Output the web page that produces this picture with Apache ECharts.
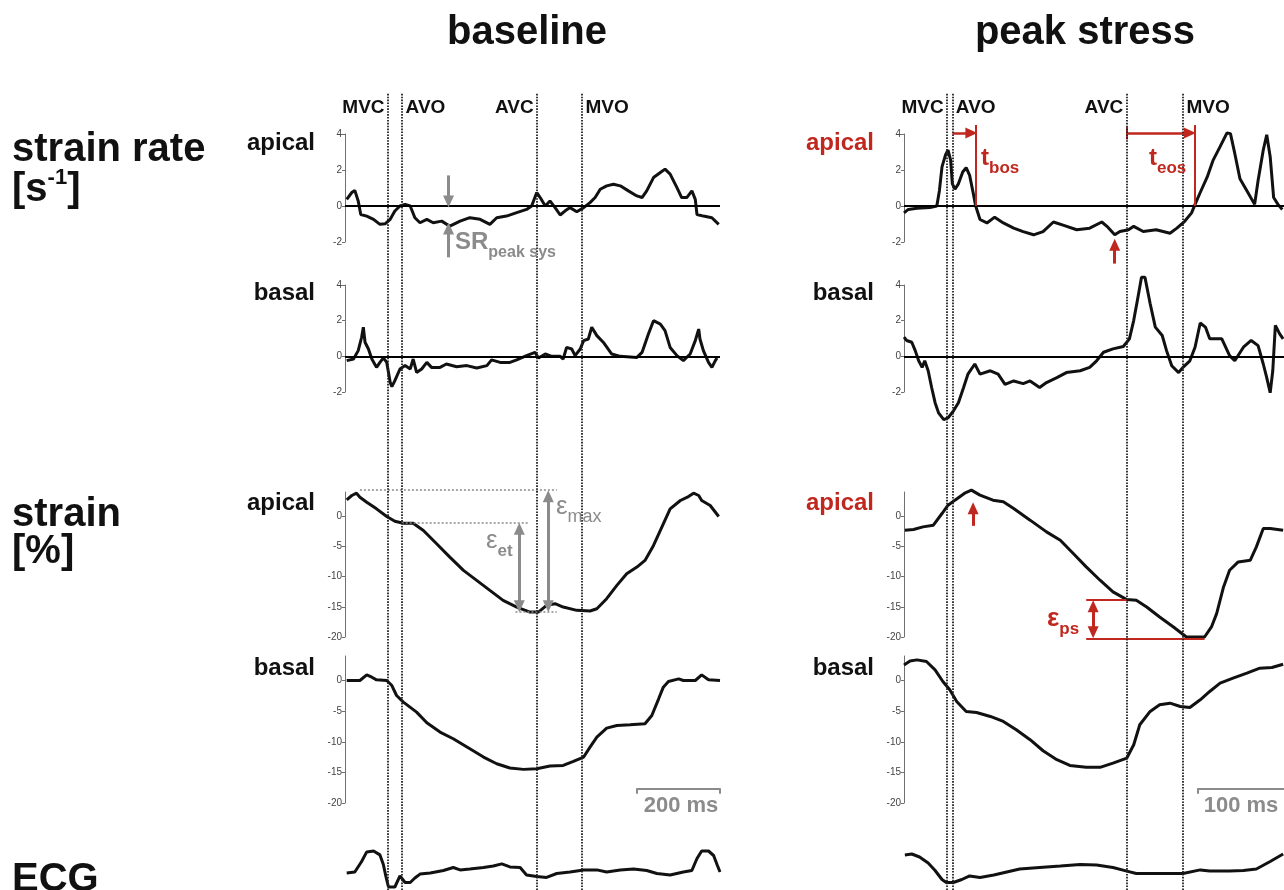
<!DOCTYPE html>
<html><head><meta charset="utf-8">
<script src="https://cdn.jsdelivr.net/npm/echarts@6/dist/echarts.min.js"></script>
<style>html,body{margin:0;padding:0;background:#fff}#c{width:1284px;height:890px}</style>
</head><body><div id="c"></div>
<script>
// ---------- DATA (time in ms, value) ----------
const eventNames = ['MVC', 'AVO', 'AVC', 'MVO'];
const baseEvents = [101, 134, 451, 556];
const peakEvents = [50, 56, 258, 323];
const srTicks = [-2, 0, 2, 4];
const strainTicks = [-20, -15, -10, -5, 0];

const baseSrApical = [[4,0.37],[16,0.75],[23,0.87],[31,0.28],[37,-0.47],[51,-0.56],[67,-0.74],[82,-1.02],[94,-0.99],[106,-0.74],[117,-0.28],[129,0],[141,0.09],[153,0],[164,-0.65],[176,-0.93],[192,-0.74],[207,-0.93],[227,-0.84],[246,-1.12],[270,-0.84],[293,-0.65],[317,-0.74],[340,-1.02],[356,-0.65],[379,-0.56],[403,-0.37],[426,-0.19],[438,0],[450,0.75],[458,0.47],[470,0],[481,0.28],[493,-0.09],[505,-0.5],[516,-0.28],[528,-0.09],[544,-0.32],[560,-0.09],[575,0.19],[587,0.47],[599,0.93],[614,1.12],[630,1.21],[646,1.12],[665,0.84],[685,0.56],[697,0.47],[708,0.84],[724,1.58],[740,1.86],[751,2.05],[763,1.77],[779,1.02],[790,0.47],[802,0.47],[814,0.84],[822,0.37],[826,-0.47],[841,-0.56],[861,-0.65],[877,-1.02]];
const baseSrBasal = [[4,-0.24],[20,-0.15],[31,0.32],[39,1.07],[43,1.63],[47,0.79],[55,0.41],[63,-0.15],[74,-0.62],[82,-0.34],[90,-0.09],[98,-0.34],[106,-1.46],[110,-1.7],[117,-1.36],[129,-0.71],[141,-0.52],[153,-0.71],[160,-0.15],[168,-0.9],[180,-0.71],[192,-0.34],[203,-0.62],[223,-0.62],[238,-0.43],[262,-0.58],[286,-0.52],[309,-0.65],[333,-0.52],[344,-0.2],[364,-0.34],[387,-0.34],[403,-0.2],[426,0.04],[446,0.22],[454,-0.09],[470,0.13],[485,0],[505,0],[512,-0.15],[520,0.5],[532,0.41],[540,0.04],[552,0.41],[560,0.88],[571,0.97],[579,1.63],[591,1.16],[606,0.79],[626,0.13],[646,0],[685,-0.06],[697,0.22],[712,1.25],[724,2.0],[740,1.81],[751,1.44],[763,0.5],[779,0.04],[794,-0.24],[810,0.13],[822,0.88],[830,1.53],[833,0.97],[841,0.32],[853,-0.34],[861,-0.62],[869,-0.24],[873,-0.09]];
const baseStrainApical = [[4,2.7],[16,3.42],[27,3.8],[35,3.14],[51,2.31],[74,1.21],[98,-0.06],[117,-0.83],[137,-1.16],[160,-1.16],[184,-2.37],[215,-4.57],[246,-6.78],[278,-8.98],[309,-10.63],[340,-12.29],[371,-13.94],[403,-15.04],[434,-15.87],[454,-15.87],[473,-14.77],[493,-14.49],[512,-15.04],[544,-15.59],[575,-15.7],[591,-15.32],[614,-13.66],[638,-11.46],[661,-9.53],[685,-8.43],[704,-7.33],[724,-4.85],[747,-1.27],[763,1.21],[787,2.59],[806,3.25],[818,3.8],[830,3.42],[837,2.59],[857,1.76],[877,-0.06]];
const baseStrainBasal = [[4,0],[35,0],[51,0.92],[63,0.54],[74,0.11],[98,0],[110,-0.82],[121,-2.45],[137,-3.53],[168,-5.16],[192,-6.9],[223,-8.42],[254,-9.51],[293,-11.14],[325,-12.5],[356,-13.59],[387,-14.29],[419,-14.51],[450,-14.4],[481,-13.97],[512,-13.86],[536,-13.21],[560,-12.5],[575,-10.87],[591,-9.24],[614,-7.77],[638,-7.34],[669,-7.23],[704,-7.07],[720,-5.71],[736,-2.99],[747,-1.09],[759,-0.16],[783,0.27],[794,0],[822,0],[837,0.92],[853,0.11],[880,0]];
const baseEcg = [[4,0.14],[23,0.2],[39,0.9],[51,1.54],[67,1.6],[82,1.34],[90,0.7],[96,-0.1],[102,-0.8],[117,-0.8],[129,-0.06],[141,-0.5],[153,-0.5],[164,-0.2],[176,0.06],[200,0.14],[231,0.3],[254,0.5],[270,0.34],[293,0.4],[325,0.5],[348,0.6],[368,0.74],[387,0.54],[411,0.5],[426,0],[450,-0.1],[473,-0.16],[497,0.1],[528,0.2],[560,0.34],[591,0.34],[614,0.2],[646,0.34],[677,0.4],[708,0.3],[732,0.1],[763,0],[794,0.2],[814,0.3],[826,1.1],[837,1.6],[853,1.6],[865,1.3],[873,0.7],[880,0.2]];

const peakSrApical = [[0,-0.38],[5,-0.19],[15,-0.13],[30,-0.09],[38,0],[41,0.85],[44,2.17],[48,2.83],[51,3.11],[54,2.55],[56,1.23],[59,0.94],[63,1.23],[68,1.89],[72,2.13],[76,1.7],[80,0.75],[83,0],[88,-0.75],[96,-0.94],[105,-0.62],[115,-0.94],[127,-1.23],[138,-1.42],[150,-1.6],[161,-1.42],[173,-0.89],[185,-1.08],[200,-1.32],[215,-1.23],[229,-0.89],[235,-1.13],[244,-1.6],[250,-1.42],[260,-1.32],[266,-1.13],[277,-1.42],[292,-1.32],[308,-1.51],[316,-1.23],[325,-0.85],[333,-0.38],[337,0.09],[343,0.75],[351,1.6],[358,2.55],[366,3.3],[374,4.06],[378,4.02],[383,2.92],[389,1.51],[397,0.85],[406,0.09],[410,1.42],[416,3.11],[420,3.96],[424,2.74],[428,0.47],[433,0.09],[438,-0.19]];
const peakSrBasal = [[0,1.08],[3,0.89],[9,0.79],[13,0.32],[17,-0.25],[21,-0.62],[24,-0.25],[28,-0.81],[32,-1.75],[36,-2.6],[40,-3.17],[46,-3.55],[51,-3.45],[57,-3.08],[63,-2.6],[69,-1.75],[74,-1.0],[82,-0.43],[88,-1.0],[100,-0.81],[109,-1.0],[117,-1.57],[127,-1.38],[138,-1.53],[146,-1.38],[157,-1.75],[165,-1.47],[177,-1.19],[188,-0.91],[204,-0.81],[215,-0.62],[223,-0.25],[231,0.23],[242,0.42],[254,0.55],[261,0.98],[266,2.02],[271,3.34],[275,4.43],[279,4.43],[285,2.96],[291,1.64],[299,1.17],[304,0.32],[310,-0.53],[318,-0.91],[323,-0.62],[331,-0.25],[337,0.51],[343,1.87],[349,1.64],[354,0.98],[368,0.98],[377,0.04],[383,-0.25],[393,0.51],[402,0.89],[410,0.6],[416,-0.43],[420,-1.19],[424,-2.04],[427,-0.81],[430,1.74],[435,1.26],[439,0.98]];
const peakStrainApical = [[1,-2.32],[11,-2.21],[22,-1.77],[34,-1.49],[44,0.44],[51,1.82],[59,2.65],[71,3.87],[78,4.31],[88,3.48],[103,2.65],[115,2.38],[127,1.27],[146,-0.66],[165,-2.6],[181,-3.98],[196,-6.19],[211,-8.4],[227,-10.6],[242,-12.54],[258,-13.81],[269,-13.92],[281,-15.03],[296,-16.69],[312,-18.34],[327,-20],[348,-20],[356,-18.34],[362,-16.13],[370,-11.71],[377,-8.95],[387,-7.57],[401,-7.29],[408,-5.08],[416,-2.04],[424,-2.04],[439,-2.32]];
const peakStrainBasal = [[0,2.55],[7,3.2],[15,3.37],[26,3.1],[36,1.74],[45,-0.16],[53,-1.52],[61,-3.42],[72,-5.05],[84,-5.22],[100,-5.87],[115,-6.68],[130,-8.04],[146,-9.67],[161,-11.47],[177,-12.93],[192,-13.86],[211,-14.18],[227,-14.18],[242,-13.48],[258,-12.66],[266,-10.49],[273,-7.23],[285,-5.05],[296,-3.97],[308,-3.7],[320,-4.24],[331,-4.4],[343,-3.15],[354,-1.79],[366,-0.43],[381,0.38],[397,1.2],[412,2.01],[426,2.12],[439,2.66]];
const peakEcg = [[1,1.34],[9,1.4],[18,1.2],[28,0.8],[36,0.3],[44,-0.3],[49,-0.5],[57,-0.5],[67,-0.3],[76,-0.06],[88,-0.16],[104,0],[119,0.2],[134,0.4],[157,0.5],[181,0.6],[204,0.7],[223,0.66],[242,0.5],[258,0.26],[269,0.1],[292,0.1],[323,0.1],[343,0.34],[354,0.26],[377,0.26],[393,0.3],[408,0.4],[424,0.9],[439,1.4]];

// ---------- STYLE / LAYOUT ----------
const FONT = '"Liberation Sans", Arial, Helvetica, sans-serif';
const RED = '#c0281f';
const GRAY = '#8b8b8b';
const INK = '#111';

const columns = [
  { left: 345, width: 375, max: 880, events: baseEvents, data: [baseSrApical, baseSrBasal, baseStrainApical, baseStrainBasal, baseEcg] },
  { left: 904, width: 380, max: 440, events: peakEvents, data: [peakSrApical, peakSrBasal, peakStrainApical, peakStrainBasal, peakEcg] }
];
const rows = [
  { top: 134, height: 108, min: -2, max: 4, ticks: srTicks, zero: true, pad: 3 },
  { top: 285, height: 107, min: -2, max: 4, ticks: srTicks, zero: true, pad: 3 },
  { top: 492, height: 145, min: -20, max: 4, ticks: strainTicks, pad: 4 },
  { top: 656, height: 147, min: -20, max: 4, ticks: strainTicks, pad: 4 },
  { top: 845, height: 50, min: -1, max: 2, hidden: true, pad: 0 }
];

const grid = [], xAxis = [], yAxis = [], series = [];

function seg(a, b, color, width, endSym, startSym, type) {
  return [
    { coord: a, symbol: startSym || 'none', symbolSize: [11, 12], lineStyle: { color, width, type: type || 'solid' } },
    { coord: b, symbol: endSym || 'none', symbolSize: [11, 12] }
  ];
}

// annotations keyed by "col,row" (data coordinates of that panel)
const annot = {
  '0,0': [
    seg([243, 1.7], [243, 0.25], GRAY, 3, 'triangle'),
    seg([243, -2.85], [243, -1.25], GRAY, 3, 'triangle')
  ],
  '0,2': [
    seg([35, 4.3], [497, 4.3], '#8a8a8a', 1.6, null, null, [2, 2]),
    seg([133, -1.16], [430, -1.16], '#8a8a8a', 1.6, null, null, [2, 2]),
    seg([400, -15.9], [497, -15.9], '#8a8a8a', 1.6, null, null, [2, 2]),
    seg([409, -2.1], [409, -14.9], GRAY, 3, 'triangle', 'triangle'),
    seg([477, 3.3], [477, -14.9], GRAY, 3, 'triangle', 'triangle')
  ],
  '0,3': [
    seg([685, -17.6], [880, -17.6], GRAY, 2),
    seg([685, -17.6], [685, -18.5], GRAY, 2),
    seg([880, -17.6], [880, -18.5], GRAY, 2)
  ],
  '1,0': [
    seg([56, 4.05], [78, 4.05], RED, 2.5, 'triangle'),
    seg([83, 4.5], [83, 0], RED, 2),
    seg([258, 4.05], [331, 4.05], RED, 2.5, 'triangle'),
    seg([258, 3.7], [258, 4.4], RED, 2),
    seg([337, 4.5], [337, 0], RED, 2),
    seg([244, -3.2], [244, -2.15], RED, 3, 'triangle')
  ],
  '1,2': [
    seg([80, -1.6], [80, 1.3], RED, 3, 'triangle'),
    seg([211, -13.8], [258, -13.8], RED, 2),
    seg([211, -20.3], [348, -20.3], RED, 2),
    seg([219, -14.9], [219, -19.2], RED, 3, 'triangle', 'triangle')
  ],
  '1,3': [
    seg([340, -17.6], [440, -17.6], GRAY, 2),
    seg([340, -17.6], [340, -18.5], GRAY, 2)
  ]
};

columns.forEach((col, c) => {
  rows.forEach((row, r) => {
    // visible axis grid (y axis only)
    if (!row.hidden) {
      const ga = grid.length;
      grid.push({ left: col.left, top: row.top, width: col.width, height: row.height });
      xAxis.push({ gridIndex: ga, type: 'value', min: 0, max: col.max, show: false });
      yAxis.push({
        gridIndex: ga, type: 'value', min: row.min, max: row.max, splitLine: { show: false },
        axisLine: { show: true, onZero: false, lineStyle: { color: '#707070', width: 1 } },
        axisTick: { show: true, length: 3, customValues: row.ticks, lineStyle: { color: '#707070' } },
        axisLabel: { customValues: row.ticks, fontSize: 10, color: '#444', margin: 3, fontFamily: FONT }
      });
    }
    // plot grid: same scale, extended range so annotations outside the axis are kept
    const ppu = row.height / (row.max - row.min);
    const gi = grid.length;
    grid.push({ left: col.left, top: row.top - row.pad * ppu, width: col.width, height: row.height + 2 * row.pad * ppu });
    xAxis.push({ gridIndex: gi, type: 'value', min: 0, max: col.max, show: false });
    yAxis.push({ gridIndex: gi, type: 'value', min: row.min - row.pad, max: row.max + row.pad, show: false });
    const ml = [];
    if (row.zero) ml.push({ yAxis: 0, symbol: 'none', lineStyle: { color: '#000', width: 2, type: 'solid' } });
    (annot[c + ',' + r] || []).forEach(a => ml.push(a));
    series.push({
      type: 'line', xAxisIndex: gi, yAxisIndex: gi, data: col.data[r], symbol: 'none', showSymbol: false,
      clip: false, silent: true, z: 3,
      lineStyle: { color: INK, width: 3 },
      markLine: ml.length ? { silent: true, symbol: 'none', animation: false, label: { show: false }, data: ml } : undefined
    });
  });
  // overlay grid for event markers (dotted vertical lines)
  const gi = grid.length;
  grid.push({ left: col.left, top: 93, width: col.width, height: 797 });
  xAxis.push({ gridIndex: gi, type: 'value', min: 0, max: col.max, show: false });
  yAxis.push({ gridIndex: gi, type: 'value', min: 0, max: 1, show: false });
  series.push({
    type: 'line', xAxisIndex: gi, yAxisIndex: gi, data: [], symbol: 'none', silent: true, z: 1,
    markLine: {
      silent: true, symbol: 'none', animation: false, label: { show: false },
      lineStyle: { color: '#222', width: 1.8, type: [1.6, 1.3] },
      data: col.events.map(t => ({ xAxis: t }))
    },
    markPoint: {
      silent: true, animation: false, symbol: 'rect', symbolSize: 1, itemStyle: { color: 'rgba(0,0,0,0)' },
      label: { show: true, formatter: '{b}', fontSize: 19, fontWeight: 'bold', color: INK, fontFamily: FONT, distance: 3 },
      data: col.events.map((t, i) => ({ name: eventNames[i], coord: [t, 0.981], label: { position: (i % 2 === 0) ? 'left' : 'right' } }))
    }
  });
});

// ---------- TEXT ----------
function txt(x, y, text, size, color, align, weight, rich) {
  return {
    type: 'text', x, y, z: 20, silent: true,
    style: {
      text, fill: color || INK, font: (weight || 'bold') + ' ' + size + 'px ' + FONT,
      align: align || 'left', verticalAlign: 'middle', textAlign: align || 'left', textVerticalAlign: 'middle', rich
    }
  };
}
function tok(size, color, weight, padTop, padBottom) {
  return { fontSize: size, fontWeight: weight || 'bold', fontFamily: FONT, fill: color, padding: [padTop || 0, 0, padBottom || 0, 0] };
}

const graphic = [
  txt(527, 33, 'baseline', 40, INK, 'center'),
  txt(1085, 33, 'peak stress', 40, INK, 'center'),
  txt(12, 150, 'strain rate', 40),
  txt(12, 190, '{a|[s}{b|-1}{a|]}', 40, INK, 'left', 'bold', { a: tok(40, INK), b: tok(22, INK, 'bold', 0, 24) }),
  txt(12, 515, 'strain', 40),
  txt(12, 552, '[%]', 40),
  txt(12, 880, 'ECG', 40),
  txt(315, 143, 'apical', 24, INK, 'right'),
  txt(315, 293, 'basal', 24, INK, 'right'),
  txt(315, 503, 'apical', 24, INK, 'right'),
  txt(315, 668, 'basal', 24, INK, 'right'),
  txt(874, 143, 'apical', 24, RED, 'right'),
  txt(874, 293, 'basal', 24, INK, 'right'),
  txt(874, 503, 'apical', 24, RED, 'right'),
  txt(874, 668, 'basal', 24, INK, 'right'),
  txt(455, 242, '{a|SR}{b|peak sys}', 24, GRAY, 'left', 'bold', { a: tok(24, GRAY), b: tok(16, GRAY, 'bold', 22, 0) }),
  txt(486, 541, '{a|ε}{b|et}', 26, GRAY, 'left', 'normal', { a: tok(26, GRAY, 'normal'), b: tok(17, GRAY, 'bold', 20, 0) }),
  txt(556, 507, '{a|ε}{b|max}', 26, GRAY, 'left', 'normal', { a: tok(26, GRAY, 'normal'), b: tok(18, GRAY, 'normal', 20, 0) }),
  txt(981, 158, '{a|t}{b|bos}', 24, RED, 'left', 'bold', { a: tok(24, RED), b: tok(17, RED, 'bold', 20, 0) }),
  txt(1149, 158, '{a|t}{b|eos}', 24, RED, 'left', 'bold', { a: tok(24, RED), b: tok(17, RED, 'bold', 20, 0) }),
  txt(1047, 619, '{a|ε}{b|ps}', 26, RED, 'left', 'bold', { a: tok(26, RED), b: tok(17, RED, 'bold', 20, 0) }),
  txt(681, 806, '200 ms', 22, GRAY, 'center'),
  txt(1241, 806, '100 ms', 22, GRAY, 'center')
];

const chart = echarts.init(document.getElementById('c'), null, { renderer: 'canvas' });
chart.setOption({
  backgroundColor: '#fff', animation: false,
  grid, xAxis, yAxis, series, graphic
});
</script></body></html>
